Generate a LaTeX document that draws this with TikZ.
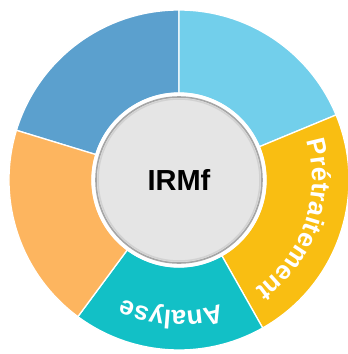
\documentclass[tikz,border=0pt]{standalone}
\usepackage{fontspec}
\setmainfont{Liberation Sans}
\usepackage{tikz}
\usetikzlibrary{decorations.text}

\definecolor{segblue}{HTML}{5BA0CE}
\definecolor{seglight}{HTML}{72CFEB}
\definecolor{segyellow}{HTML}{F9BE12}
\definecolor{segteal}{HTML}{12C0C6}
\definecolor{segorange}{HTML}{FDB55F}
\definecolor{hubgray}{HTML}{E5E5E5}

\tikzset{
    segment/.style={draw=white, line width=1.3pt, line join=round},
    hub/.style={draw=gray!70, line width=1.6pt, circle, fill=hubgray, minimum size=166pt, inner sep=0pt, font=\fontsize{29}{29}\selectfont\bfseries},
    ringtext/.style={decorate, decoration={text along path, text align=center, text={|\color{white}\fontsize{26}{26}\selectfont\bfseries|#1}}}
}

\begin{document}
\begin{tikzpicture}
        \useasboundingbox (-179pt,-174pt) rectangle (169pt,180pt);

        \draw[segment, fill=segblue] (163:170pt) arc (163:90:170pt) -- (90:87pt) arc (90:163:87pt) -- cycle;
        \draw[segment, fill=seglight] (90:170pt) arc (90:22.5:170pt) -- (22.5:87pt) arc (22.5:90:87pt) -- cycle;
        \draw[segment, fill=segyellow] (22.5:170pt) arc (22.5:-60.5:170pt) -- (-60.5:87pt) arc (-60.5:22.5:87pt) -- cycle;
        \draw[segment, fill=segteal] (-60.5:170pt) arc (-60.5:-126.5:170pt) -- (-126.5:87pt) arc (-126.5:-60.5:87pt) -- cycle;
        \draw[segment, fill=segorange] (-126.5:170pt) arc (-126.5:-197:170pt) -- (-197:87pt) arc (-197:-126.5:87pt) -- cycle;

        \path[ringtext=Prétraitement] (22.5:133pt) arc (22.5:-60.5:133pt);
        \path[ringtext=Analyse] (-60.5:131pt) arc (-60.5:-126.5:131pt);

        \fill[white] (0,0) circle (87.5pt);
        \draw (0,0) node [hub] (irmf) {IRMf};
        \draw[gray!35, line width=1.5pt] (0,0) circle (81pt);
    \end{tikzpicture}
\end{document}
